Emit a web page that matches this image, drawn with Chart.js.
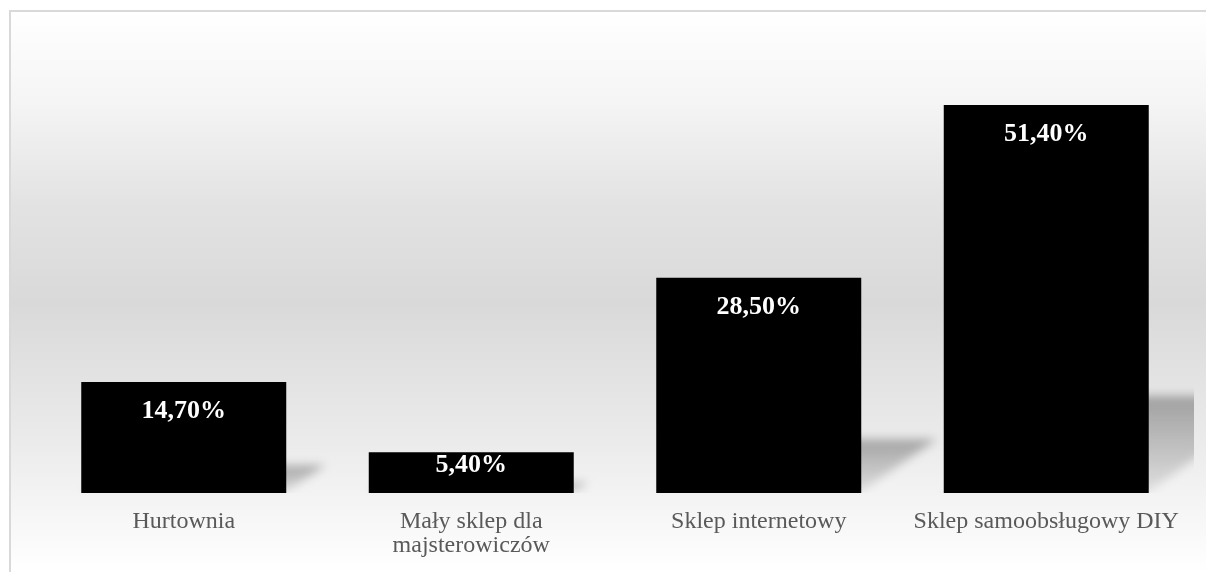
<!DOCTYPE html>
<html>
<head>
<meta charset="utf-8">
<script src="https://cdn.jsdelivr.net/npm/chart.js@4"></script>
<style>
html,body{margin:0;padding:0;background:#fff;}
#wrap{position:absolute;left:0;top:0;width:1206px;height:572px;}
</style>
</head>
<body>
<div id="wrap"><canvas id="c" width="1206" height="572"></canvas></div>
<script>
const categories = [['Hurtownia'], ['Mały sklep dla', 'majsterowiczów'], ['Sklep internetowy'], ['Sklep samoobsługowy DIY']];
const values = [14.7, 5.4, 28.5, 51.4];
const valueLabels = ['14,70%', '5,40%', '28,50%', '51,40%'];

const bgPlugin = {
  id: 'bg',
  beforeDraw(chart) {
    const ctx = chart.ctx;
    ctx.save();
    ctx.fillStyle = '#ffffff';
    ctx.fillRect(0, 0, chart.width, chart.height);
    const g = ctx.createLinearGradient(0, 11, 0, 572);
    g.addColorStop(0, '#ffffff');
    g.addColorStop(0.16, '#f5f5f5');
    g.addColorStop(0.34, '#e3e3e3');
    g.addColorStop(0.52, '#d9d9d9');
    g.addColorStop(0.78, '#ececec');
    g.addColorStop(1, '#ffffff');
    ctx.fillStyle = g;
    ctx.fillRect(10, 11, chart.width - 10, chart.height - 11);
    ctx.strokeStyle = '#d9d9d9';
    ctx.lineWidth = 2;
    ctx.beginPath();
    ctx.moveTo(10, chart.height);
    ctx.lineTo(10, 11);
    ctx.lineTo(chart.width, 11);
    ctx.stroke();
    ctx.restore();
  }
};

const shadowPlugin = {
  id: 'shadows',
  beforeDatasetsDraw(chart) {
    const ctx = chart.ctx;
    const area = chart.chartArea;
    const meta = chart.getDatasetMeta(0);
    ctx.save();
    ctx.beginPath();
    ctx.rect(area.left, area.top, area.right - area.left + 4, area.bottom - area.top);
    ctx.clip();
    ctx.filter = 'blur(5px)';
    meta.data.forEach(el => {
      const p = el.getProps(['x', 'y', 'base', 'width'], true);
      const L = p.x - p.width / 2, R = p.x + p.width / 2;
      const h = p.base - p.y;
      const sh = 0.25 * h, sk = 1.4 * sh;
      const g = ctx.createLinearGradient(0, p.base, 0, p.base - sh);
      g.addColorStop(0, 'rgba(0,0,0,0.08)');
      g.addColorStop(1, 'rgba(0,0,0,0.3)');
      ctx.fillStyle = g;
      ctx.beginPath();
      ctx.moveTo(L, p.base - 2);
      ctx.lineTo(R, p.base - 2);
      ctx.lineTo(R + sk, p.base - sh);
      ctx.lineTo(L + sk, p.base - sh);
      ctx.closePath();
      ctx.fill();
    });
    ctx.restore();
  }
};

const labelPlugin = {
  id: 'vlabels',
  afterDatasetsDraw(chart) {
    const ctx = chart.ctx;
    const meta = chart.getDatasetMeta(0);
    ctx.save();
    ctx.fillStyle = '#ffffff';
    ctx.font = 'bold 26px "Liberation Serif", "Times New Roman", serif';
    ctx.textAlign = 'center';
    ctx.textBaseline = 'middle';
    meta.data.forEach((el, i) => {
      const p = el.getProps(['x', 'y', 'base'], true);
      const cy = Math.min(p.y + 29, p.base - 28);
      ctx.fillText(valueLabels[i], p.x, cy);
    });
    ctx.restore();
  }
};

new Chart(document.getElementById('c'), {
  type: 'bar',
  data: {
    labels: categories,
    datasets: [{
      data: values,
      backgroundColor: '#000000',
      borderWidth: 0,
      barPercentage: 0.713,
      categoryPercentage: 1.0
    }]
  },
  options: {
    responsive: false,
    animation: false,
    events: [],
    layout: { padding: { left: 40, right: 16, top: 40, bottom: 0 } },
    plugins: { legend: { display: false }, tooltip: { enabled: false } },
    scales: {
      x: {
        grid: { display: false, drawTicks: false },
        border: { display: false },
        ticks: {
          color: '#595959',
          font: { family: '"Liberation Serif", "Times New Roman", serif', size: 24, lineHeight: 1.0 },
          padding: 17,
          maxRotation: 0,
          autoSkip: false
        },
        afterFit(scale) { scale.height = 79; }
      },
      y: {
        display: false,
        min: 0,
        max: 60
      }
    }
  },
  plugins: [bgPlugin, shadowPlugin, labelPlugin]
});
</script>
</body>
</html>
